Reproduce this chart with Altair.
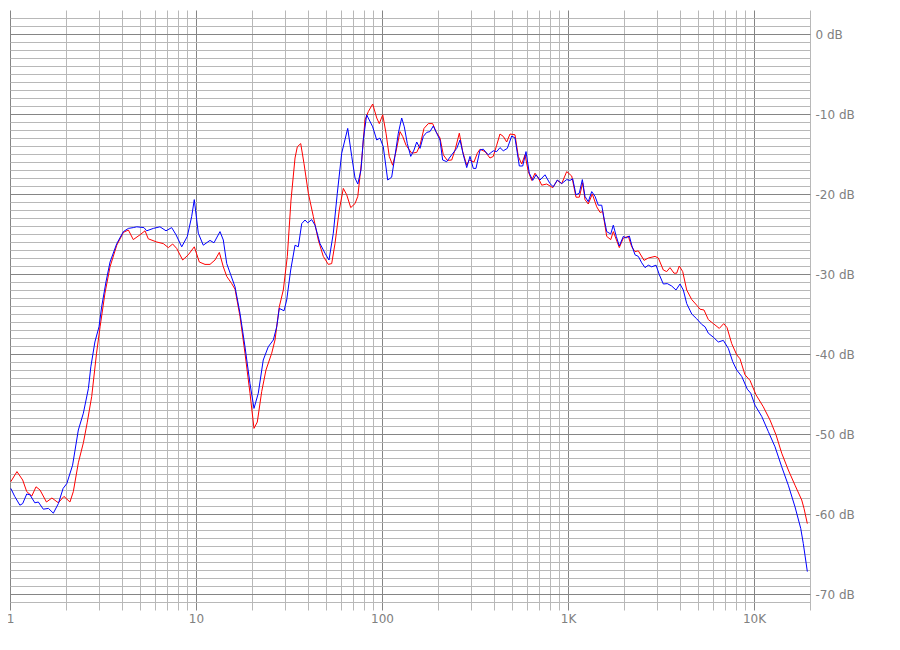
import altair as alt
import pandas as pd

# ---- data ----
red_freq = [1.01, 1.09, 1.17, 1.23, 1.31, 1.38, 1.45, 1.57, 1.68, 1.82, 1.95, 2.10, 2.19, 2.33, 2.48,
            2.60, 2.75, 2.92, 3.05, 3.24, 3.45, 3.75, 4.07, 4.33, 4.60, 5.00, 5.32, 5.54, 6.15, 6.67,
            7.10, 7.49, 7.87, 8.48, 9.09, 9.79, 10.42, 11.18, 11.89, 12.65, 13.35, 14.02, 14.63, 15.56,
            16.21, 17.24, 18.34, 19.51, 20.50, 21.36, 22.55, 23.78, 25.53, 26.59, 28.04, 29.47, 30.97,
            32.42, 34.07, 35.05, 36.56, 38.08, 40.17, 42.72, 45.45, 48.35, 51.44, 53.65, 55.88, 58.93,
            61.93, 64.6, 67.9, 71.6, 74.1, 77.8, 81.0, 84.4, 89.1, 93.7, 96.7, 100.9, 105.1, 109.4,
            114.1, 118.9, 125.0, 129.2, 134.6, 144.5, 153.7, 160.1, 168.2, 177.4, 187.3, 195.1, 205.0,
            213.6, 224.4, 237.0, 247.0, 260.4, 271.6, 285.4, 294.7, 312.3, 325.4, 336.5, 357.9, 380.6,
            396.5, 413.6, 430.8, 448.8, 468.1, 487.7, 518.9, 540.5, 563.8, 587.3, 611.8, 638.0, 664.7,
            692.4, 722.2, 768.3, 827.4, 876.0, 925.0, 984, 1047, 1104, 1150, 1200, 1234, 1285, 1351,
            1427, 1486, 1537, 1615, 1697, 1752, 1887, 1983, 2110, 2201, 2292, 2388, 2563, 2703, 2937,
            3059, 3254, 3393, 3535, 3714, 3840, 3966, 4137, 4347, 4627, 4920, 5126, 5385, 5680, 6042,
            6508, 6874, 7160, 7588, 8072, 8408, 8944, 9517, 10250, 11220, 12190, 13130, 14090, 15290,
            16610, 18050, 18570, 19350]
red_db = [-55.96, -54.7, -55.75, -57.2, -57.75, -56.6, -57.0, -58.5, -58.0, -58.6, -57.8, -58.5, -57.2,
          -53.6, -51.1, -48.6, -45.3, -39.9, -36.6, -32.4, -29.1, -26.4, -24.8, -24.5, -25.7, -25.1,
          -24.6, -25.6, -26.0, -26.2, -26.7, -26.25, -26.8, -28.25, -27.6, -26.6, -28.5, -28.8, -28.8,
          -28.25, -27.3, -29.1, -30.3, -31.2, -31.9, -35.3, -39.9, -44.9, -49.3, -48.5, -44.7, -42.0,
          -39.9, -38.25, -34.1, -32.0, -27.8, -20.75, -15.5, -14.1, -13.7, -16.2, -19.9, -22.8, -25.75,
          -27.8, -28.8, -28.7, -26.2, -22.0, -19.3, -20.1, -21.7, -21.2, -20.3, -15.75, -10.75, -9.7,
          -8.75, -10.5, -11.2, -10.1, -12.4, -15.3, -16.4, -14.7, -12.2, -12.8, -13.9, -14.9, -14.8,
          -13.9, -11.8, -11.2, -11.2, -12.2, -13.0, -15.1, -15.8, -15.75, -14.5, -12.4, -14.7, -16.4,
          -15.75, -16.0, -14.9, -14.4, -14.7, -15.5, -15.3, -13.9, -12.5, -12.8, -13.5, -12.5, -12.6,
          -15.3, -16.25, -15.1, -17.2, -18.3, -17.4, -18.0, -18.9, -18.75, -19.2, -18.3, -18.7, -17.2,
          -17.75, -20.4, -20.4, -18.6, -20.7, -21.25, -20.0, -21.6, -22.3, -22.2, -25.3, -25.7, -24.7,
          -26.7, -25.5, -25.3, -26.6, -27.2, -27.1, -28.3, -28.0, -27.8, -28.0, -29.5, -29.7, -29.2,
          -29.9, -29.9, -29.0, -29.7, -32.0, -33.2, -33.9, -34.4, -34.5, -35.7, -36.2, -36.8, -36.2,
          -36.7, -38.7, -40.1, -40.6, -42.6, -43.3, -45.1, -46.6, -48.25, -50.1, -52.4, -54.5, -56.4,
          -58.25, -59.3, -61.2]

blue_freq = [1.01, 1.06, 1.13, 1.17, 1.23, 1.28, 1.36, 1.42, 1.51, 1.61, 1.71, 1.82, 1.93, 2.02, 2.17,
             2.33, 2.48, 2.64, 2.72, 2.86, 3.01, 3.11, 3.28, 3.45, 3.75, 4.07, 4.33, 4.60, 4.80, 5.25,
             5.43, 5.90, 6.40, 6.90, 7.40, 7.81, 8.38, 8.98, 9.48, 9.79, 10.29, 10.94, 11.89, 12.49,
             13.46, 14.02, 14.63, 15.37, 16.21, 17.24, 18.34, 19.51, 20.50, 21.62, 22.99, 24.46, 26.04,
             27.16, 28.04, 29.73, 30.73, 32.29, 34.07, 35.48, 37.02, 38.55, 39.86, 41.88, 43.63, 46.42,
             49.37, 51.89, 54.72, 57.50, 60.72, 65.41, 68.75, 71.6, 74.1, 77.1, 79.3, 82.7, 89.1, 93.7,
             97.5, 101.6, 107.3, 112.7, 117.3, 122.4, 127.6, 131.8, 136.8, 142.7, 148.6, 153.7, 160.1,
             166.8, 173.9, 181.0, 188.7, 196.8, 205.0, 211.9, 222.7, 237.0, 252.2, 262.7, 273.6, 285.4,
             297.2, 309.7, 320.0, 336.5, 350.4, 372.7, 396.5, 413.6, 430.8, 448.8, 471.6, 498.1, 518.9,
             547.3, 570.9, 594.6, 619.4, 645.9, 673.0, 707.2, 752.2, 800.0, 833.7, 876.0, 925.0, 984,
             1025, 1060, 1104, 1150, 1194, 1234, 1285, 1341, 1398, 1455, 1518, 1561, 1615, 1697, 1752,
             1818, 1887, 1983, 2050, 2137, 2201, 2292, 2388, 2491, 2594, 2703, 2818, 2975, 3099, 3254,
             3419, 3610, 3807, 4001, 4168, 4347, 4627, 4920, 5234, 5455, 5680, 6042, 6429, 6840, 7277,
             7682, 8072, 8588, 9204, 9601, 10125, 11000, 11940, 12970, 14090, 15290, 16610, 17830,
             18410, 19350]
blue_db = [-56.8, -57.8, -58.9, -58.7, -57.5, -57.6, -58.6, -58.5, -59.4, -59.3, -59.9, -58.7, -56.8,
           -56.2, -53.9, -49.5, -47.4, -44.3, -41.6, -38.5, -36.6, -34.1, -31.0, -28.5, -26.2, -24.7,
           -24.3, -24.2, -24.1, -24.2, -24.6, -24.3, -24.1, -24.6, -24.2, -25.1, -26.6, -25.3, -22.8,
           -20.7, -24.9, -26.4, -25.8, -26.1, -24.7, -25.75, -28.7, -30.1, -31.6, -34.9, -39.1, -43.7,
           -46.8, -44.9, -40.75, -39.1, -38.25, -36.6, -34.3, -34.6, -33.25, -29.5, -26.4, -26.6, -23.7,
           -23.25, -23.6, -23.2, -23.9, -26.2, -27.4, -28.25, -24.9, -19.9, -14.9, -11.8, -15.3, -18.0,
           -18.75, -17.0, -13.25, -10.1, -11.6, -13.25, -13.0, -14.1, -18.25, -17.9, -15.3, -12.4, -10.5,
           -11.6, -13.7, -15.3, -14.5, -13.5, -14.3, -12.8, -12.3, -12.2, -11.5, -12.4, -13.25, -15.75,
           -15.96, -15.1, -14.3, -13.25, -15.1, -16.7, -15.3, -16.8, -16.8, -14.5, -14.4, -15.1, -14.6,
           -14.7, -14.2, -14.6, -14.3, -12.75, -13.0, -16.5, -16.5, -14.7, -17.4, -18.3, -17.6, -18.25,
           -17.6, -18.7, -19.1, -18.25, -18.7, -18.2, -18.3, -18.1, -20.1, -19.9, -18.2, -20.3, -20.96,
           -19.7, -20.3, -21.4, -21.4, -23.0, -24.7, -25.0, -23.9, -25.3, -26.5, -25.3, -25.5, -25.25,
           -26.4, -27.6, -27.8, -28.6, -29.2, -28.9, -29.1, -28.9, -30.1, -31.25, -31.2, -31.5, -32.0,
           -31.25, -32.0, -33.7, -35.0, -35.6, -36.3, -36.6, -37.4, -37.9, -38.5, -38.3, -39.3, -40.96,
           -42.0, -42.8, -44.4, -44.9, -46.4, -47.8, -49.7, -51.6, -54.1, -56.4, -59.1, -61.8, -63.7,
           -67.2]

x_grid_values = [m * 10 ** e for e in range(0, 4) for m in range(1, 10)] + [10000, 20000]
x_major_values = [1, 10, 100, 1000, 10000]
x_major_labels = ["1", "10", "100", "1K", "10K"]
y_grid_values = list(range(-71, 3))
y_domain = [-72, 3]
x_domain = [1, 20000]

MAJOR = "#858585"
MINOR = "#b8b8b8"
LABEL = "#808080"

red_df = pd.DataFrame({"freq": red_freq, "db": red_db})
blue_df = pd.DataFrame({"freq": blue_freq, "db": blue_db})

x_label_expr = " : ".join(
    f"datum.value == {v} ? '{t}'" for v, t in zip(x_major_values, x_major_labels)
) + " : ''"

x_enc = alt.X(
    "freq:Q",
    scale=alt.Scale(type="log", domain=x_domain, nice=False),
    axis=alt.Axis(
        values=x_grid_values,
        grid=True,
        gridColor={"condition": {"test": f"indexof({x_major_values}, datum.value) >= 0", "value": MAJOR},
                   "value": MINOR},
        gridWidth=1,
        ticks=False,
        domain=False,
        labelExpr=x_label_expr,
        labelFont="DejaVu Sans",
        labelFontSize=12,
        labelColor=LABEL,
        labelPadding=3,
        labelFlush=False,
        labelOverlap=False,
        title=None,
    ),
)
y_enc = alt.Y(
    "db:Q",
    scale=alt.Scale(domain=y_domain, nice=False, zero=False),
    axis=alt.Axis(
        orient="right",
        values=y_grid_values,
        grid=True,
        gridColor={"condition": {"test": "datum.value % 10 == 0", "value": MAJOR}, "value": MINOR},
        gridWidth=1,
        ticks=False,
        domain=False,
        labelExpr="datum.value % 10 == 0 ? datum.value + ' dB' : ''",
        labelFont="DejaVu Sans",
        labelFontSize=12,
        labelColor=LABEL,
        labelPadding=5,
        labelFlush=False,
        labelOverlap=False,
        title=None,
    ),
)

red_line = alt.Chart(red_df).mark_line(color="#ff0000", strokeWidth=1, clip=True).encode(
    x=x_enc, y=y_enc, order="freq:Q")
blue_line = alt.Chart(blue_df).mark_line(color="#0000ff", strokeWidth=1, clip=True).encode(
    x=x_enc, y=y_enc, order="freq:Q")

chart = alt.layer(red_line, blue_line).properties(
    width=800,
    height=600,
    padding={"left": 2, "top": 2, "right": 70, "bottom": 25},
    autosize=alt.AutoSizeParams(type="none"),
    background="white",
).configure_view(stroke=None)

chart.save("out.html", embed_options={"renderer": "svg", "actions": False})
